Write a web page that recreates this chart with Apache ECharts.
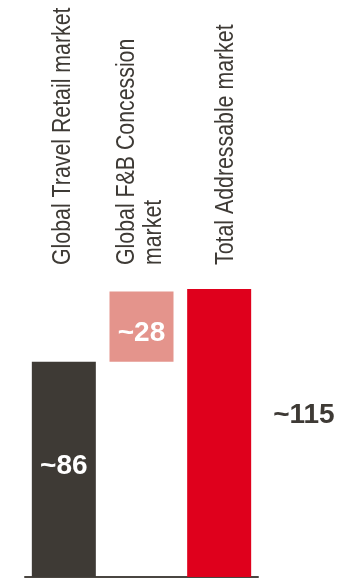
<!DOCTYPE html>
<html>
<head>
<meta charset="utf-8">
<script src="https://cdn.jsdelivr.net/npm/echarts@6/dist/echarts.min.js"></script>
<style>html,body{margin:0;padding:0;background:#fff}#c{width:357px;height:581px}</style>
</head>
<body>
<div id="c"></div>
<script>
var categories = ['Global Travel Retail market', 'Global F&B Concession\nmarket', 'Total Addressable market'];
var values = [86, 28, 115];
var valueLabels = ['~86', '~28', '~115'];
var colors = ['#3e3a35', '#e4948c', '#df001c'];
// invisible offset so the middle bar floats on top of the first
var offsets = [0, 86, 0];

var chart = echarts.init(document.getElementById('c'), null, {renderer: 'canvas'});
var labelCfg = [
  {position: 'inside', offset: [0, -3], color: '#ffffff'},
  {position: 'inside', offset: [0, 7], color: '#ffffff'},
  {position: 'right', distance: 22, offset: [0, -18], color: '#3e3a35'}
];
chart.setOption({
  animation: false,
  grid: {left: 25, right: 99, top: 289, bottom: 4, outerBoundsMode: 'none', containLabel: false},
  xAxis: {
    type: 'category', data: categories, position: 'bottom',
    axisLine: {show: true, lineStyle: {color: '#4a4641', width: 2}},
    axisTick: {show: false}, axisLabel: {show: false}
  },
  yAxis: {type: 'value', min: 0, max: 115, show: false, splitLine: {show: false}},
  series: [{
    type: 'bar', stack: 'w', barWidth: 64, silent: true,
    itemStyle: {color: 'transparent'},
    data: offsets
  }, {
    type: 'bar', stack: 'w', barWidth: 64,
    data: values.map(function (v, i) {
      return {
        value: v,
        itemStyle: {color: colors[i]},
        label: {
          show: true, position: labelCfg[i].position, distance: labelCfg[i].distance,
          offset: labelCfg[i].offset, color: labelCfg[i].color,
          formatter: valueLabels[i], fontFamily: '"Liberation Sans", Arial, sans-serif',
          fontWeight: 'bold', fontSize: 28
        }
      };
    })
  }]
});

// Category headers: rotated, condensed text placed above each bar via the category axis
var headerShift = [-1.5, -1.5, 7];
var graphics = categories.map(function (name, i) {
  var cx = chart.convertToPixel({xAxisIndex: 0}, i);
  return {
    type: 'text', x: cx + headerShift[i], y: 265,
    rotation: Math.PI / 2, scaleX: 0.82, scaleY: 1,
    style: {
      text: name, fill: '#3e3a35',
      font: '26px "Liberation Sans", Arial, sans-serif',
      lineHeight: 27, align: 'left', verticalAlign: 'middle'
    }
  };
});
chart.setOption({graphic: graphics});
</script>
</body>
</html>
